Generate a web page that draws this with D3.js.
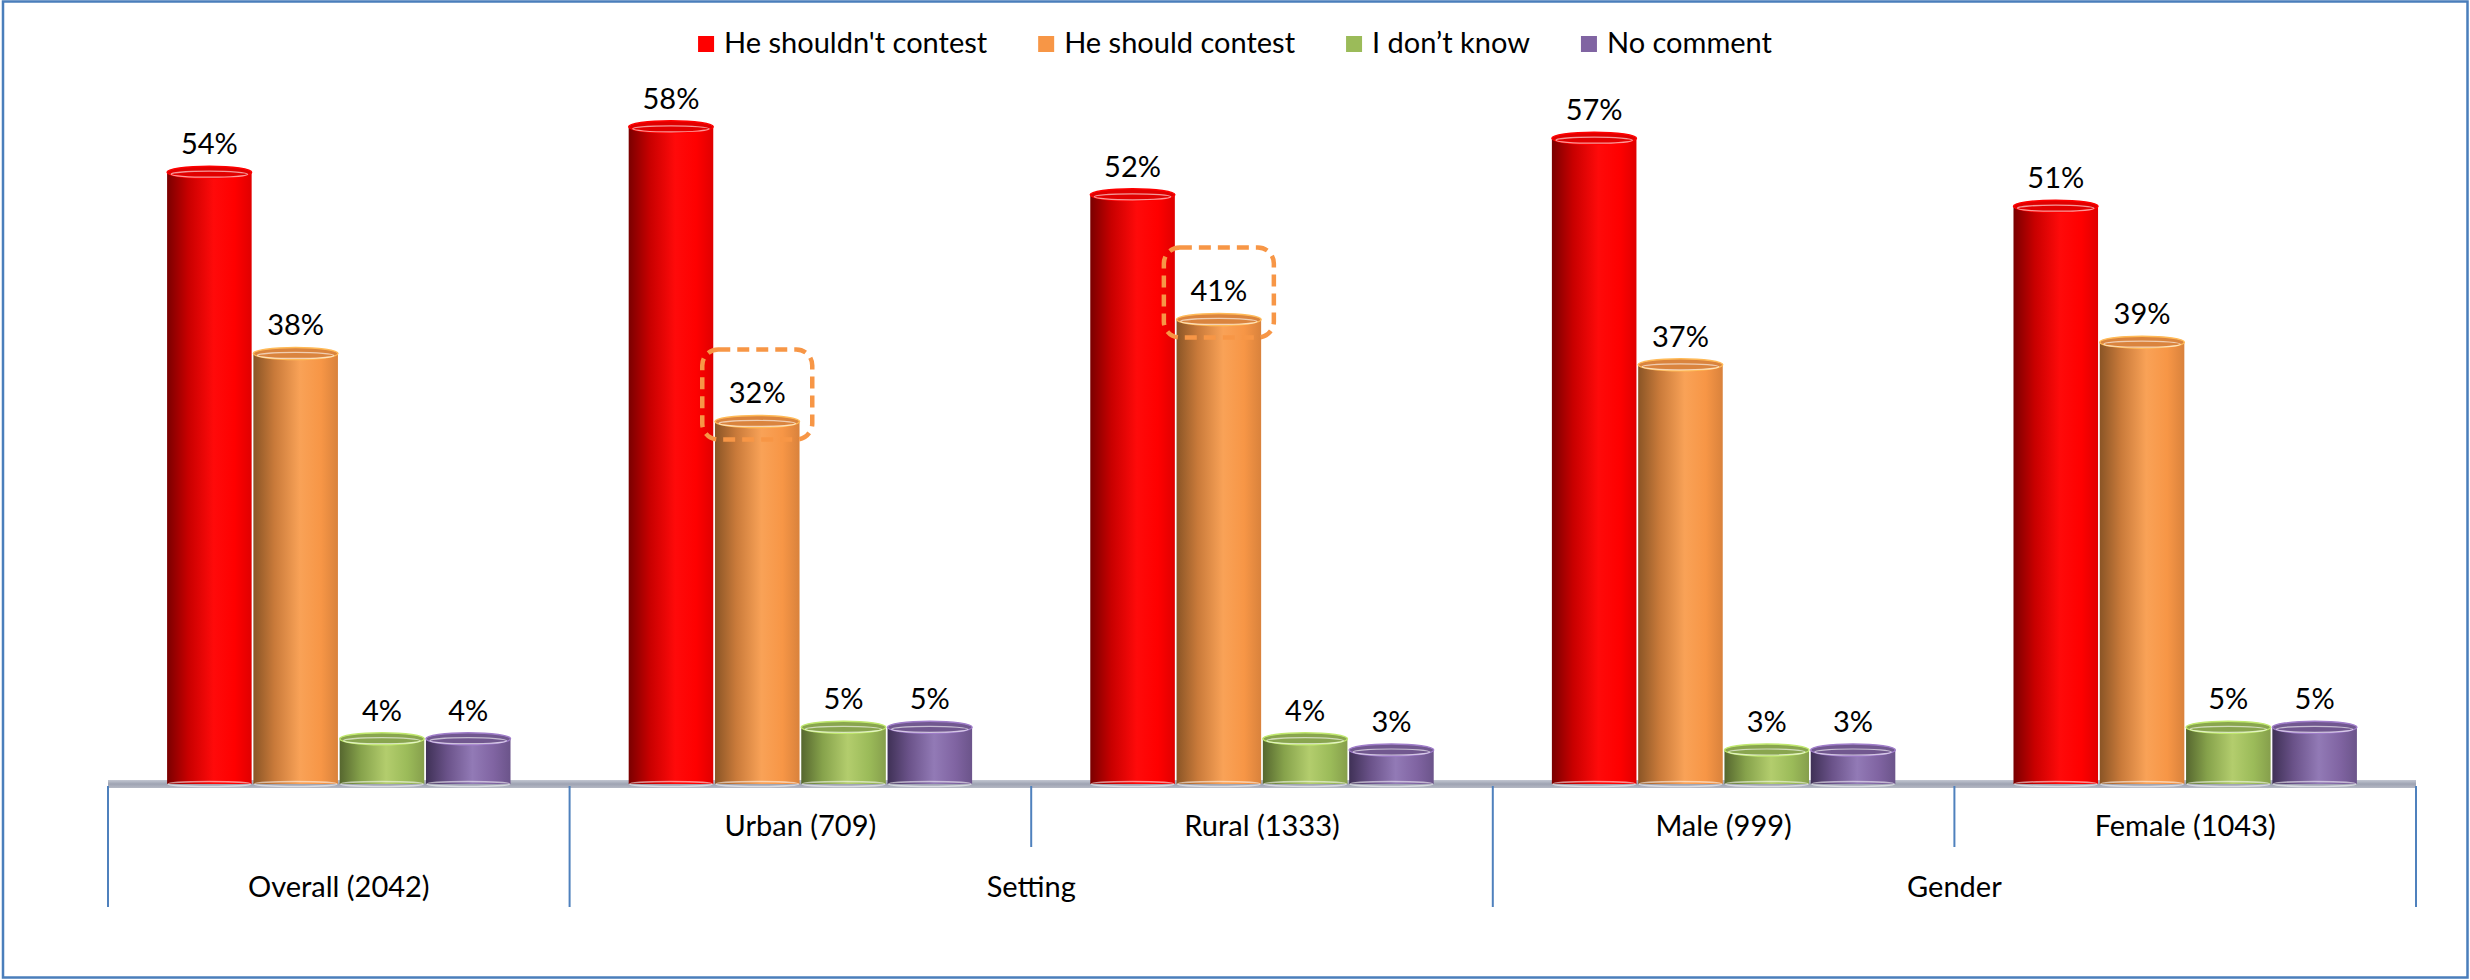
<!DOCTYPE html>
<html>
<head>
<meta charset="utf-8">
<script src="https://cdn.jsdelivr.net/npm/d3@7/dist/d3.min.js"></script>
<style>
  html, body { margin: 0; padding: 0; background: #fff; }
  svg { display: block; }
  text { font-family: Lato, "Open Sans", sans-serif; fill: #000; }
</style>
</head>
<body>
<svg id="chart" width="2470" height="980"></svg>
<script>
// ---------- data ----------
const categories = ["Overall (2042)", "Urban (709)", "Rural (1333)", "Male (999)", "Female (1043)"];
const seriesNames = ["He shouldn't contest", "He should contest", "I don\u2019t know", "No comment"];
const shouldntContest = [54, 58, 52, 57, 51];
const shouldContest   = [38, 32, 41, 37, 39];
const dontKnow        = [4, 5, 4, 3, 5];
const noComment       = [4, 5, 3, 3, 5];
const seriesValues = [shouldntContest, shouldContest, dontKnow, noComment];
// outer level: label, first category, last category
const outerGroups = [["Overall (2042)", 0, 0], ["Setting", 1, 2], ["Gender", 3, 4]];
// highlighted points: [series index, category index]
const highlighted = [[1, 1], [1, 2]];

// ---------- styles ----------
const colors = ["#FF0000", "#F79646", "#9BBB59", "#8064A2"];
const gradStops = [
  ["#7a0000", "#c80000", "#ff0a0a", "#ff0000", "#e00000"],
  ["#8a5526", "#c97a3a", "#f9a257", "#f79646", "#d9823c"],
  ["#56672f", "#86a24b", "#b3cd6d", "#9bbb59", "#869f4c"],
  ["#3f3156", "#6a5289", "#927ab6", "#8064a2", "#6b548a"]
];

const W = 2470, H = 980;
const svg = d3.select("#chart");
const fontSize = 29;

// outer border
svg.append("rect").attr("x", 3).attr("y", 1.5).attr("width", W - 5.5).attr("height", H - 4)
  .attr("fill", "none").attr("stroke", "#4a7ebb").attr("stroke-width", 2.5);

// gradients
const defs = svg.append("defs");
gradStops.forEach((stops, i) => {
  const g = defs.append("linearGradient").attr("id", "g" + i)
    .attr("x1", 0).attr("x2", 1).attr("y1", 0).attr("y2", 0);
  const offs = [0, 0.25, 0.55, 0.8, 1];
  stops.forEach((c, k) => g.append("stop").attr("offset", offs[k]).attr("stop-color", c));
});
const floorGrad = defs.append("linearGradient").attr("id", "floor")
  .attr("x1", 0).attr("x2", 0).attr("y1", 0).attr("y2", 1);
floorGrad.append("stop").attr("offset", 0).attr("stop-color", "#c3c7d2");
floorGrad.append("stop").attr("offset", 0.5).attr("stop-color", "#9ea3b2");
floorGrad.append("stop").attr("offset", 1).attr("stop-color", "#b5b9c4");

// ---------- scales ----------
const x0 = d3.scaleBand().domain(d3.range(categories.length)).range([108, 2416]).padding(0);
const bw = x0.bandwidth();
const x1 = d3.scaleBand().domain(d3.range(seriesNames.length))
  .range([bw * 0.128, bw * 0.872]).paddingInner(0.02);
const y = d3.scaleLinear().domain([0, 60]).range([784, 784 - 60 * 11.33]);
const ry = 6;

// floor
svg.append("rect").attr("x", x0.range()[0]).attr("y", y(0) - 4)
  .attr("width", x0.range()[1] - x0.range()[0]).attr("height", 8)
  .attr("fill", "url(#floor)");

// ---------- bars ----------
const barData = [];
seriesValues.forEach((vals, s) => vals.forEach((v, c) => barData.push({ s, c, v })));

const gBars = svg.append("g");
const bar = gBars.selectAll("g.bar").data(barData).join("g").attr("class", "bar")
  .attr("transform", d => `translate(${x0(d.c) + x1(d.s)},0)`);

bar.append("rect")
  .attr("x", 0).attr("y", d => y(d.v))
  .attr("width", x1.bandwidth()).attr("height", d => y(0) - y(d.v))
  .attr("fill", d => `url(#g${d.s})`);
// bottom rim
bar.append("ellipse")
  .attr("cx", x1.bandwidth() / 2).attr("cy", y(0)).attr("rx", x1.bandwidth() / 2 - 1).attr("ry", 2.5)
  .attr("fill", "none").attr("stroke", "rgba(255,255,255,0.55)").attr("stroke-width", 1.5);
// top ellipse
bar.append("ellipse")
  .attr("cx", x1.bandwidth() / 2).attr("cy", d => y(d.v))
  .attr("rx", x1.bandwidth() / 2).attr("ry", ry)
  .attr("fill", d => d3.color(colors[d.s]).darker(0.35))
  .attr("stroke", d => d3.color(colors[d.s]).brighter(0.6)).attr("stroke-width", 1.5);
bar.append("ellipse")
  .attr("cx", x1.bandwidth() / 2).attr("cy", d => y(d.v) + 2)
  .attr("rx", x1.bandwidth() / 2 - 4).attr("ry", ry - 3)
  .attr("fill", "none").attr("stroke", "rgba(255,255,255,0.6)").attr("stroke-width", 1.2);

// value labels
const labelGap = 18;
svg.append("g").selectAll("text").data(barData).join("text")
  .attr("x", d => x0(d.c) + x1(d.s) + x1.bandwidth() / 2)
  .attr("y", d => y(d.v) - labelGap)
  .attr("text-anchor", "middle")
  .attr("font-size", fontSize)
  .text(d => d.v + "%");

// highlight boxes
svg.append("g").selectAll("rect").data(highlighted).join("rect")
  .attr("x", d => x0(d[1]) + x1(d[0]) + x1.bandwidth() / 2 - 55)
  .attr("y", d => y(seriesValues[d[0]][d[1]]) - labelGap - 54)
  .attr("width", 110).attr("height", 90).attr("rx", 16)
  .attr("fill", "none").attr("stroke", "#F79646").attr("stroke-width", 4.5)
  .attr("stroke-dasharray", "12 7");

// ---------- multi-level category axis ----------
const axisCol = "#4f81bd";
const gAxis = svg.append("g");
const rowInner = 836, rowOuter = 897, longTick = 907, shortTick = 847;
// boundaries
const bounds = d3.range(categories.length + 1).map(i => i === categories.length ? x0.range()[1] : x0(i));
const outerBounds = new Set();
outerGroups.forEach(g => { outerBounds.add(g[1]); outerBounds.add(g[2] + 1); });
bounds.forEach((bx, i) => {
  gAxis.append("line").attr("x1", bx).attr("x2", bx).attr("y1", y(0) + 2)
    .attr("y2", outerBounds.has(i) ? longTick : shortTick)
    .attr("stroke", axisCol).attr("stroke-width", 2);
});
outerGroups.forEach(([label, a, b]) => {
  const cx = (x0(a) + x0(b) + bw) / 2;
  if (a !== b) {
    d3.range(a, b + 1).forEach(c => {
      gAxis.append("text").attr("x", x0(c) + bw / 2).attr("y", rowInner)
        .attr("text-anchor", "middle").attr("font-size", fontSize).text(categories[c]);
    });
  }
  gAxis.append("text").attr("x", cx).attr("y", rowOuter)
    .attr("text-anchor", "middle").attr("font-size", fontSize).text(label);
});

// ---------- legend ----------
const legend = svg.append("g");
let lx = 0;
seriesNames.forEach((name, i) => {
  const it = legend.append("g").attr("transform", `translate(${lx},0)`);
  it.append("rect").attr("x", 0).attr("y", 36).attr("width", 16).attr("height", 16).attr("fill", colors[i]);
  const t = it.append("text").attr("x", 26).attr("y", 53).attr("font-size", fontSize).text(name);
  lx += 26 + t.node().getComputedTextLength() + 51;
});
const legendW = lx - 51;
legend.attr("transform", `translate(${(W - legendW) / 2},0)`);
</script>
</body>
</html>
